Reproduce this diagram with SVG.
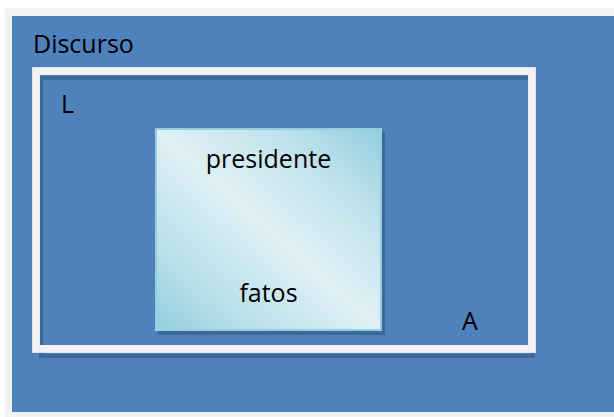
<svg xmlns="http://www.w3.org/2000/svg" width="614" height="417" viewBox="0 0 614 417">
  <defs>
    <linearGradient id="boxGrad" x1="0" y1="1" x2="1" y2="0">
      <stop offset="0" stop-color="#93cddd"/>
      <stop offset="0.22" stop-color="#b9e0ea"/>
      <stop offset="0.5" stop-color="#dff0f5"/>
      <stop offset="0.75" stop-color="#c2e3ec"/>
      <stop offset="1" stop-color="#93cddd"/>
    </linearGradient>
    <style>
      .lbl { font-family: "Open Sans", "Noto Sans", "Liberation Sans", sans-serif; font-size: 25px; fill: #000; }
      .shadow { fill: #3d6898; }
    </style>
  </defs>
  <rect x="0" y="0" width="614" height="417" fill="#ffffff"/>
  <rect x="5" y="8" width="609" height="409" fill="#f2f2f2"/>
  <g id="discurso">
    <rect x="12" y="16" width="602" height="396" fill="#4f81bd"/>
    <text class="lbl" x="33" y="53">Discurso</text>
  </g>
  <g id="frame-LA">
    <path class="shadow" d="M36 71 h496 v282 h-496 Z M40 75 v274 h488 v-274 Z" transform="translate(3,5)" fill-rule="evenodd"/>
    <path d="M32 67 h504 v286 h-504 Z M40 75 v270 h488 v-270 Z" fill="#f2f2f2" fill-rule="evenodd"/>
    <rect x="32.5" y="67.5" width="503" height="285" fill="none" stroke="#dbe5f1" stroke-width="1"/>
    <text class="lbl" x="61" y="113">L</text>
    <text class="lbl" x="462" y="330">A</text>
  </g>
  <g id="box">
    <rect class="shadow" x="158" y="132" width="227" height="203" fill="#3a6991"/>
    <rect x="156" y="129" width="225" height="201" fill="url(#boxGrad)" stroke="#93cfe0" stroke-width="2"/>
    <text class="lbl" x="268.5" y="168" text-anchor="middle">presidente</text>
    <text class="lbl" x="268.5" y="302" text-anchor="middle">fatos</text>
  </g>
  <g id="connectors"/>
</svg>
